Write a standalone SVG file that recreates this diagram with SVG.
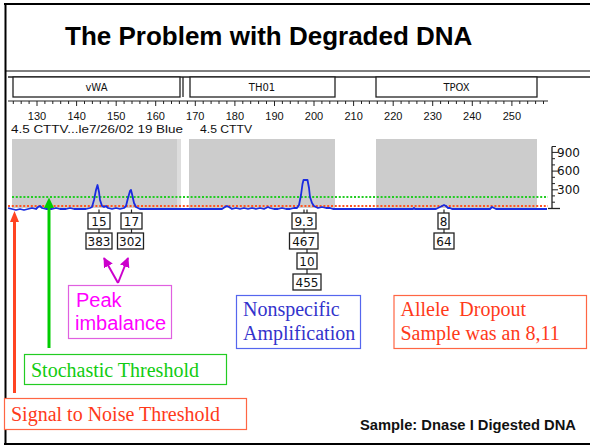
<svg xmlns="http://www.w3.org/2000/svg" width="590" height="446" viewBox="0 0 590 446">
<defs>
<style>
.frame{stroke:#000;stroke-width:2;fill:none}
.loc{fill:#fff;stroke:#222;stroke-width:1.3}
.loct{font-family:"DejaVu Sans",sans-serif;font-size:10px;fill:#111;text-anchor:middle}
.rul{font-family:"Liberation Sans",Arial,sans-serif;font-size:11px;fill:#111;text-anchor:middle}
.small{font-family:"Liberation Sans",Arial,sans-serif;font-size:11px;fill:#111}
.ax{font-family:"DejaVu Sans",sans-serif;font-size:12px;fill:#111}
.gray{fill:#cccccc}
.abox{fill:#fff;stroke:#222;stroke-width:1.3}
.at{font-family:"DejaVu Sans",sans-serif;font-size:12px;fill:#111;text-anchor:middle}
.conn{stroke:#222;stroke-width:1.2}
.tms{font-family:"Liberation Serif","Times New Roman",serif;font-size:20px}
</style>
<marker id="mag" viewBox="0 0 10 10" refX="9" refY="5" markerWidth="5" markerHeight="5" orient="auto" markerUnits="strokeWidth">
<path d="M0,0 L10,5 L0,10 z" fill="#cc00cc"/>
</marker>
</defs>
<rect width="590" height="446" fill="#fff"/>
<!-- frame -->
<g id="frame">
<line class="frame" x1="4" y1="4" x2="590" y2="4"/>
<line class="frame" x1="5.5" y1="4" x2="5.5" y2="445"/>
<line class="frame" x1="4" y1="444" x2="590" y2="444"/>
<line x1="5" y1="71" x2="590" y2="71" stroke="#000" stroke-width="1.2"/>
</g>
<text x="65" y="45" font-family="Liberation Sans, Arial, sans-serif" font-size="26" font-weight="bold" fill="#000">The Problem with Degraded DNA</text>
<!-- locus bar -->
<g id="locusbar">
<line x1="8" y1="77" x2="590" y2="77" stroke="#222" stroke-width="1.3"/>
<rect class="loc" x="13" y="77" width="167" height="20"/>
<line x1="183" y1="77" x2="183" y2="97" stroke="#222" stroke-width="1.3"/>
<rect class="loc" x="190" y="77" width="145" height="20"/>
<rect class="loc" x="376" y="77" width="161" height="20"/>
<text class="loct" x="96.5" y="91">vWA</text>
<text class="loct" x="262" y="91">TH01</text>
<text class="loct" x="456.5" y="91">TPOX</text>
</g>
<!-- ruler -->
<g id="ruler">
<line x1="8" y1="101" x2="548" y2="101" stroke="#222" stroke-width="1"/>
<path stroke="#222" stroke-width="1" d="M13.3,101v3M21.2,101v3M29.1,101v3M37,101v5M44.9,101v3M52.8,101v3M60.7,101v3M68.6,101v3M76.6,101v5M84.5,101v3M92.4,101v3M100.3,101v3M108.2,101v3M116.2,101v5M124.1,101v3M132,101v3M139.9,101v3M147.8,101v3M155.7,101v5M163.6,101v3M171.5,101v3M179.4,101v3M187.4,101v3M195.3,101v5M203.2,101v3M211.1,101v3M219,101v3M226.9,101v3M234.9,101v5M242.8,101v3M250.7,101v3M258.6,101v3M266.5,101v3M274.5,101v5M282.4,101v3M290.3,101v3M298.2,101v3M306.1,101v3M314,101v5M321.9,101v3M329.8,101v3M337.7,101v3M345.6,101v3M353.6,101v5M361.5,101v3M369.4,101v3M377.3,101v3M385.2,101v3M393.2,101v5M401.1,101v3M409,101v3M416.9,101v3M424.8,101v3M432.7,101v5M440.6,101v3M448.5,101v3M456.4,101v3M464.4,101v3M472.3,101v5M480.2,101v3M488.1,101v3M496,101v3M503.9,101v3M511.9,101v5M519.8,101v3M527.7,101v3M535.6,101v3M543.5,101v3"/>
<text class="rul" x="37" y="120">130</text>
<text class="rul" x="76.6" y="120">140</text>
<text class="rul" x="116.2" y="120">150</text>
<text class="rul" x="155.7" y="120">160</text>
<text class="rul" x="195.3" y="120">170</text>
<text class="rul" x="234.9" y="120">180</text>
<text class="rul" x="274.5" y="120">190</text>
<text class="rul" x="314" y="120">200</text>
<text class="rul" x="353.6" y="120">210</text>
<text class="rul" x="393.2" y="120">220</text>
<text class="rul" x="432.7" y="120">230</text>
<text class="rul" x="472.3" y="120">240</text>
<text class="rul" x="511.9" y="120">250</text>
<text class="small" x="11" y="133" textLength="172" lengthAdjust="spacingAndGlyphs">4.5 CTTV...le7/26/02 19 Blue</text>
<text class="small" x="200" y="133" textLength="52" lengthAdjust="spacingAndGlyphs">4.5 CTTV</text>
</g>
<!-- electropherogram -->
<g id="plot">
<rect class="gray" x="12" y="139" width="165" height="69"/>
<rect x="177" y="139" width="4" height="69" fill="#dddddd"/>
<rect class="gray" x="189" y="139" width="146" height="69"/>
<rect class="gray" x="376" y="139" width="161" height="69"/>
<line x1="12" y1="197" x2="548" y2="197" stroke="#22cc22" stroke-width="2" stroke-dasharray="2 1.8"/>
<line x1="8" y1="206" x2="548" y2="206" stroke="#ff5522" stroke-width="2" stroke-dasharray="2 1.8"/>
<path fill="none" stroke="#1a2be0" stroke-width="1.8" stroke-linejoin="round" d="M8,208 L12,209 L16,210 L20,209 L24,210 L28,209 L32,208 L36,209 L38,207 L40,206 L42,208 L46,209 L52,209 L56,208 L60,209 L66,209 L70,208 L74,209 L80,209 L86,209 L90,208 L92,207 L94,200 L96,190 L97.5,185 L99,192 L100,200 L102,206 L104,207 L106,206 L108,208 L112,209 L116,208 L120,209 L124,208 L126,206 L128,198 L130,191 L131,190 L132,194 L134,203 L136,207 L140,209 L222,209 L225,207 L227,206 L229,207 L232,209 L236,208 L240,209 L244,208 L248,209 L252,208 L256,209 L260,208 L264,209 L268,207 L270,208 L274,209 L278,209 L282,208 L286,209 L290,209 L294,208 L297,208 L299,205 L301,195 L302.5,184 L303.5,180 L307.5,180 L309,188 L310,197 L312,203 L314,206 L316,207 L318,208 L322,207 L326,208 L330,208 L333,209 L413,209 L414,208 L415,209 L436,209 L438,208 L440,207 L442,206 L444,205 L446,206 L448,208 L450,208 L452,209 L490,209 L492,207 L494,208 L496,209 L547,209"/>
</g>
<!-- y axis -->
<g id="yaxis">
<line x1="552" y1="146.5" x2="552" y2="208.5" stroke="#222" stroke-width="1.3"/>
<line x1="548" y1="208.5" x2="560" y2="208.5" stroke="#222" stroke-width="1.3"/>
<path stroke="#222" stroke-width="1" d="M552,146.5h4M552,158.7h3M552,164.9h3M552,177.3h3M552,183.6h3M552,195.9h3M552,202.2h3M552,152.4h6M552,171.1h6M552,189.8h6"/>
<text class="ax" x="557" y="156.5">900</text>
<text class="ax" x="557" y="175">600</text>
<text class="ax" x="557" y="193.5">300</text>
</g>
<!-- allele boxes -->
<g id="allele-15">
<rect class="abox" x="88" y="213" width="22" height="16"/>
<text class="at" x="99" y="225.5">15</text>
<rect class="abox" x="86" y="233" width="26" height="16"/>
<text class="at" x="99" y="245.5">383</text>
</g>
<g id="allele-17">
<rect class="abox" x="121" y="213" width="21" height="16"/>
<text class="at" x="131.5" y="225.5">17</text>
<rect class="abox" x="117.5" y="233" width="26" height="16"/>
<text class="at" x="130.5" y="245.5">302</text>
</g>
<g id="allele-9-3">
<rect class="abox" x="292" y="213" width="24" height="16"/>
<text class="at" x="304" y="225.5">9.3</text>
<rect class="abox" x="289.5" y="233" width="28.5" height="16"/>
<text class="at" x="303.7" y="245.5">467</text>
</g>
<g id="allele-10">
<rect class="abox" x="297" y="253" width="20" height="16"/>
<text class="at" x="307" y="265.5">10</text>
<rect class="abox" x="293" y="274" width="28" height="16"/>
<text class="at" x="307" y="286.5">455</text>
</g>
<g id="allele-8">
<rect class="abox" x="438" y="213" width="11" height="16"/>
<text class="at" x="443.5" y="225.5">8</text>
<rect class="abox" x="434" y="233" width="20" height="16"/>
<text class="at" x="444" y="245.5">64</text>
</g>
<!-- annotation boxes -->
<g id="peak-imbalance">
<rect x="68.5" y="285.5" width="103" height="53" fill="#fff" stroke="#e060e0" stroke-width="1.2"/>
<text x="76" y="307" font-family="Liberation Sans, Arial, sans-serif" font-size="20" fill="#ff00ff">Peak</text>
<text x="75" y="330" font-family="Liberation Sans, Arial, sans-serif" font-size="20" fill="#ff00ff">imbalance</text>
</g>
<g id="nonspecific">
<rect x="236.5" y="295.5" width="124" height="53" fill="#fff" stroke="#5566ee" stroke-width="1.2"/>
<text class="tms" x="243" y="316" fill="#3333cc" font-size="21">Nonspecific</text>
<text class="tms" x="243" y="340" fill="#3333cc" font-size="21">Amplification</text>
</g>
<g id="allele-dropout">
<rect x="394" y="295.5" width="192.5" height="53" fill="#fff" stroke="#ff6644" stroke-width="1.2"/>
<text class="tms" x="400.5" y="316" fill="#ff3a1a" xml:space="preserve">Allele  Dropout</text>
<text class="tms" x="400.5" y="340" fill="#ff3a1a">Sample was an 8,11</text>
</g>
<g id="stochastic">
<rect x="24.5" y="354.5" width="202" height="30" fill="#fff" stroke="#22cc22" stroke-width="1.2"/>
<text class="tms" x="31" y="377" fill="#11cc11">Stochastic Threshold</text>
</g>
<g id="signal-noise">
<rect x="4.5" y="398.5" width="242" height="31" fill="#fff" stroke="#ff6644" stroke-width="1.2"/>
<text class="tms" x="11" y="421" fill="#ff3a1a">Signal to Noise Threshold</text>
</g>
<text x="360" y="430" font-family="Liberation Sans, Arial, sans-serif" font-size="14" font-weight="bold" fill="#111" textLength="216" lengthAdjust="spacingAndGlyphs">Sample: Dnase I Digested DNA</text>
<!-- connectors -->
<g id="connectors">
<path class="conn" d="M99,209.5V213M99,229V233M131.5,209.5V213M131.5,229V233M304,209.5V213M307,209.5V213M304,229V233M307,249V253M307,269V274M444,209.5V213M444,229V233"/>
<line x1="118" y1="283" x2="104" y2="258" stroke="#cc00cc" stroke-width="2" marker-end="url(#mag)"/>
<line x1="118" y1="283" x2="128" y2="258" stroke="#cc00cc" stroke-width="2" marker-end="url(#mag)"/>
<line x1="49" y1="348" x2="49" y2="206" stroke="#00cc00" stroke-width="3"/>
<polygon points="49,197.5 44,208 54,208" fill="#00cc00"/>
<line x1="14.5" y1="393" x2="14.5" y2="220" stroke="#ff4422" stroke-width="3"/>
<polygon points="14.5,211 10,222 19,222" fill="#ff4422"/>
</g>
</svg>
